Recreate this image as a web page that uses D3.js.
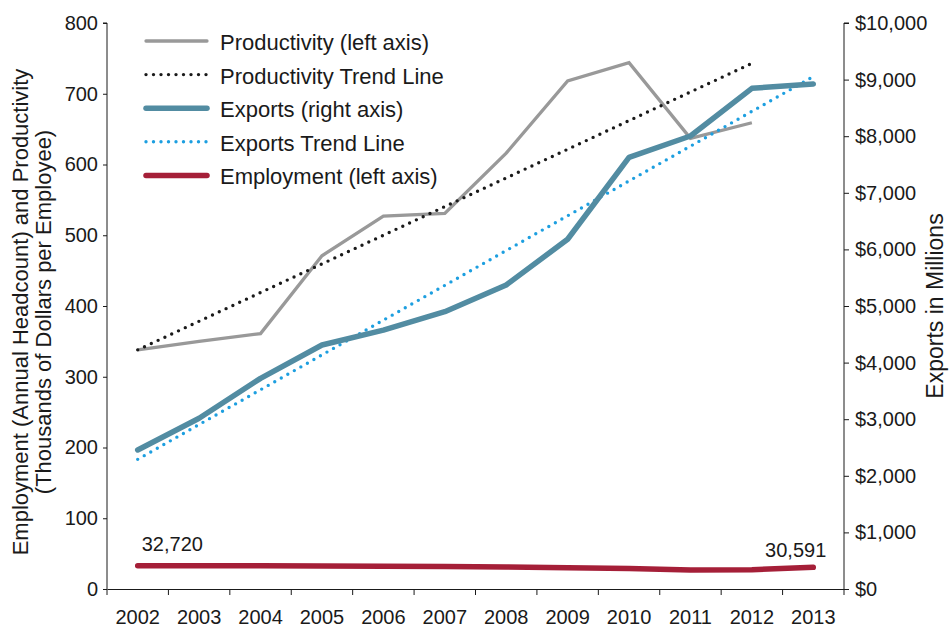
<!DOCTYPE html>
<html><head><meta charset="utf-8">
<script src="https://cdn.jsdelivr.net/npm/d3@7"></script>
<style>
body{margin:0;background:#fff;}
text{font-family:"Liberation Sans",Arial,sans-serif;fill:#1a1a1a;}
</style></head>
<body>
<svg id="c" width="949" height="630"></svg>
<script>
const years = ["2002","2003","2004","2005","2006","2007","2008","2009","2010","2011","2012","2013"];
const productivityYears = ["2002","2003","2004","2005","2006","2007","2008","2009","2010","2011","2012"];
const productivity = [338, 350, 361, 471, 527, 531, 616, 718, 744, 637, 659];
const exportsM = [2456, 3016, 3722, 4311, 4575, 4900, 5371, 6179, 7627, 8004, 8846, 8922];
const employment = [32.72, 32.8, 32.7, 32.4, 32.1, 31.9, 31.2, 30.0, 29.0, 26.8, 27.3, 30.591];
const productivityTrendYears = ["2002","2012"];
const productivityTrend = [338, 743];
const exportsTrendYears = ["2002","2013"];
const exportsTrend = [2291, 9023];
const leftTicks = [0,100,200,300,400,500,600,700,800];
const rightTicks = [0,1000,2000,3000,4000,5000,6000,7000,8000,9000,10000];
const legendItems = ["Productivity (left axis)","Productivity Trend Line","Exports (right axis)","Exports Trend Line","Employment (left axis)"];
const employmentLabels = ["32,720","30,591"];

const svg = d3.select("#c");
const L = 107, R = 844, T = 23, B = 589;
const x = d3.scaleBand().domain(years).range([L, R]);
const xc = d => x(d) + x.bandwidth()/2;
const yL = d3.scaleLinear().domain([0,800]).range([B, T]);
const yR = d3.scaleLinear().domain([0,10000]).range([B, T]);
const AX = "#1a1a1a";

// bottom axis
const ax = svg.append("g").attr("transform",`translate(0,${B})`)
  .call(d3.axisBottom(x).tickSize(0).tickPadding(21));
ax.select(".domain").attr("stroke",AX);
ax.selectAll("text").style("font-size","20px").attr("fill","#1a1a1a");
const bounds = years.map(d => x(d)).concat([R]);
svg.append("g").selectAll("line").data(bounds).join("line")
  .attr("x1",d=>d).attr("x2",d=>d).attr("y1",B).attr("y2",B+6).attr("stroke",AX);

const al = svg.append("g").attr("transform",`translate(${L},0)`)
  .call(d3.axisLeft(yL).tickValues(leftTicks).tickSize(4).tickPadding(5));
al.select(".domain").attr("stroke",AX).attr("d",`M0,${B}V${T}H-4`);
al.selectAll("line").attr("stroke",AX);
al.selectAll("text").style("font-size","20px");

const ar = svg.append("g").attr("transform",`translate(${R},0)`)
  .call(d3.axisRight(yR).tickValues(rightTicks).tickSize(5).tickPadding(6)
    .tickFormat(d => "$" + d3.format(",")(d)));
ar.select(".domain").attr("stroke",AX).attr("d",`M0,${B}V${T}H5`);
ar.selectAll("line").attr("stroke",AX);
ar.selectAll("text").style("font-size","20px");

// titles
svg.append("text").attr("transform","translate(28,312) rotate(-90)").attr("text-anchor","middle")
  .style("font-size","22px").text("Employment (Annual Headcount) and Productivity");
svg.append("text").attr("transform","translate(51,312) rotate(-90)").attr("text-anchor","middle")
  .style("font-size","22px").text("(Thousands of Dollars per Employee)");
svg.append("text").attr("transform","translate(943,306) rotate(-90)").attr("text-anchor","middle")
  .style("font-size","23px").text("Exports in Millions");

const line = d3.line();
const DOT = "0 7.5";
// productivity
svg.append("path").attr("d", line(productivityYears.map((d,i)=>[xc(d), yL(productivity[i])])))
  .attr("fill","none").attr("stroke","#999999").attr("stroke-width",3.3);
// productivity trend
svg.append("path").attr("d", line(productivityTrendYears.map((d,i)=>[xc(d), yL(productivityTrend[i])])))
  .attr("fill","none").attr("stroke","#1a1a1a").attr("stroke-width",3.4)
  .attr("stroke-dasharray",DOT).attr("stroke-linecap","round");
// exports trend
svg.append("path").attr("d", line(exportsTrendYears.map((d,i)=>[xc(d)-(i?3:0), yR(exportsTrend[i])])))
  .attr("fill","none").attr("stroke","#1d9fe0").attr("stroke-width",3.4)
  .attr("stroke-dasharray",DOT).attr("stroke-linecap","round");
// exports
svg.append("path").attr("d", line(years.map((d,i)=>[xc(d), yR(exportsM[i])])))
  .attr("fill","none").attr("stroke","#528ca2").attr("stroke-width",5.5).attr("stroke-linecap","round").attr("stroke-linejoin","round");
// employment
svg.append("path").attr("d", line(years.map((d,i)=>[xc(d), yL(employment[i])])))
  .attr("fill","none").attr("stroke","#a51f38").attr("stroke-width",5.5).attr("stroke-linecap","round").attr("stroke-linejoin","round");

svg.append("text").attr("x", xc(years[0])+4).attr("y", 551).attr("text-anchor","start")
  .style("font-size","20px").text(employmentLabels[0]);
svg.append("text").attr("x", xc(years[11])+13).attr("y", 557).attr("text-anchor","end")
  .style("font-size","20px").text(employmentLabels[1]);

// legend
const styles = [
  {c:"#999999", w:3.3, dash:null},
  {c:"#1a1a1a", w:3.4, dash:DOT},
  {c:"#528ca2", w:5.5, dash:null},
  {c:"#1d9fe0", w:3.4, dash:DOT},
  {c:"#a51f38", w:5.5, dash:null}
];
const lg = svg.append("g");
legendItems.forEach((t,i)=>{
  const yy = 41 + i*33.6;
  const s = styles[i];
  lg.append("line").attr("x1",146).attr("x2",207).attr("y1",yy).attr("y2",yy)
    .attr("stroke",s.c).attr("stroke-width",s.w).attr("stroke-linecap","round")
    .attr("stroke-dasharray",s.dash);
  lg.append("text").attr("x",220).attr("y",yy+9).style("font-size","22px").text(t);
});
</script>
</body></html>
